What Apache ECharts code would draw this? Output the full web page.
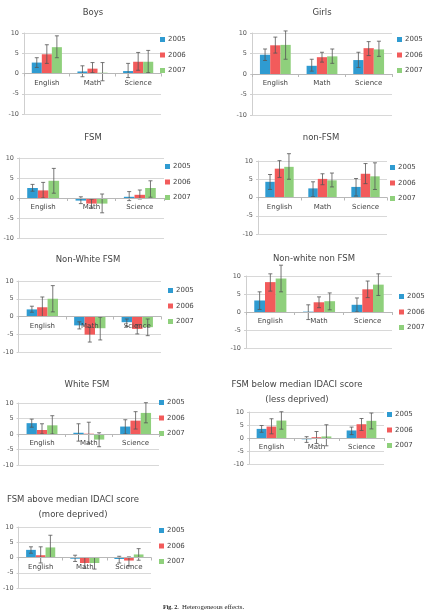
<!DOCTYPE html>
<html><head><meta charset="utf-8">
<script src="https://cdn.jsdelivr.net/npm/echarts@6/dist/echarts.min.js"></script>
<style>html,body{margin:0;padding:0;background:#fff}#c{width:428px;height:615px}</style>
</head><body><div id="c"></div>
<script>
const categories = ['English', 'Math', 'Science'];
const years = ['2005', '2006', '2007'];
const panelTitles = ['Boys', 'Girls', 'FSM', 'non-FSM', 'Non-White FSM', 'Non-white non FSM', 'White FSM',
  'FSM below median IDACI score\n(less deprived)', 'FSM above median IDACI score\n(more deprived)'];
const yTicks = [-10, -5, 0, 5, 10];

// values[panel][year][category]
const boys  = [[2.7, 0.5, 0.6], [4.75, 1.2, 2.9], [6.5, 0.2, 2.9]];
const boysLow  = [[1.5, -0.8, -1.0], [2.5, 0.2, 0.8], [3.9, -1.8, 0.2]];
const boysHigh = [[3.9, 1.9, 2.5], [7.1, 2.7, 5.2], [9.3, 2.7, 5.7]];

const girls = [[4.7, 2.0, 3.4], [7.0, 4.1, 6.3], [7.1, 4.3, 6.0]];
const girlsLow  = [[3.3, 0.7, 1.6], [5.1, 2.9, 4.5], [3.6, 2.6, 4.3]];
const girlsHigh = [[6.1, 3.6, 5.3], [9.0, 5.3, 7.9], [10.5, 6.1, 8.0]];

const fsm = [[2.5, -0.65, 0.3], [1.9, -1.4, 0.8], [4.3, -1.4, 2.5]];
const fsmLow  = [[1.7, -1.4, -0.65], [0.0, -2.5, -0.25], [1.2, -3.7, 0.2]];
const fsmHigh = [[3.4, 0.3, 1.6], [3.9, -0.3, 2.0], [7.4, 1.0, 4.3]];

const nonFsm = [[4.3, 2.5, 2.9], [7.9, 5.1, 6.5], [8.4, 4.7, 5.8]];
const nonFsmLow  = [[2.2, 0.2, 0.4], [5.5, 3.5, 3.8], [5.0, 2.9, 2.2]];
const nonFsmHigh = [[6.3, 4.3, 5.2], [10.1, 6.5, 9.3], [12.0, 6.7, 9.5]];

const nwFsm = [[2.0, -2.5, -1.6], [2.6, -5.1, -3.5], [5.0, -3.3, -3.0]];
const nwFsmLow  = [[1.2, -3.5, -2.8], [0.0, -7.2, -4.9], [1.3, -6.6, -5.4]];
const nwFsmHigh = [[2.9, -1.5, -0.7], [5.5, -3.0, -2.3], [8.7, -0.2, -0.7]];

const nwNonFsm = [[3.2, 0.1, 2.0], [8.3, 2.7, 6.3], [9.3, 3.0, 7.6]];
const nwNonFsmLow  = [[0.7, -2.1, 0.0], [5.8, 1.2, 4.0], [5.6, 0.6, 4.6]];
const nwNonFsmHigh = [[5.6, 2.0, 3.9], [10.6, 4.2, 8.6], [13.0, 5.3, 10.6]];

const wFsm = [[3.5, 0.4, 2.4], [1.3, 0.1, 4.3], [2.8, -1.8, 6.8]];
const wFsmLow  = [[2.2, -2.3, 0.0], [0.0, -3.0, 1.6], [0.0, -4.1, 3.6]];
const wFsmHigh = [[4.8, 3.3, 4.6], [3.3, 3.8, 7.2], [5.9, 0.4, 10.1]];

const below = [[3.5, -0.5, 2.9], [4.4, 0.3, 5.3], [6.7, 0.6, 6.6]];
const belowLow  = [[2.2, -1.7, 1.3], [1.6, -2.1, 2.9], [3.4, -3.0, 3.5]];
const belowHigh = [[4.8, 0.5, 4.2], [7.4, 2.5, 7.5], [10.1, 5.1, 9.6]];

const above = [[2.5, -0.4, -0.5], [0.75, -1.8, -1.0], [3.3, -1.8, 1.0]];
const aboveLow  = [[1.4, -1.3, -1.8], [-1.8, -3.5, -2.7], [0.0, -3.8, -0.9]];
const aboveHigh = [[3.5, 0.75, 0.4], [3.5, 0.0, 0.2], [7.3, 0.0, 2.9]];

const panelValues = [boys, girls, fsm, nonFsm, nwFsm, nwNonFsm, wFsm, below, above];
const panelLow = [boysLow, girlsLow, fsmLow, nonFsmLow, nwFsmLow, nwNonFsmLow, wFsmLow, belowLow, aboveLow];
const panelHigh = [boysHigh, girlsHigh, fsmHigh, nonFsmHigh, nwFsmHigh, nwNonFsmHigh, wFsmHigh, belowHigh, aboveHigh];

// layout: grid [left, top, width, height], title [centerX, top], legend [left, top]
const layout = [
  {g: [24, 33, 137, 81],  t: [93, 5],   l: [160, 36]},
  {g: [252, 33, 140, 82], t: [322, 5],  l: [397, 36]},
  {g: [19, 158, 145, 80], t: [93, 130], l: [165, 163]},
  {g: [258, 161, 129, 73], t: [321, 130], l: [390, 164]},
  {g: [17, 281, 144, 71], t: [88, 252], l: [168, 287]},
  {g: [246, 276, 146, 72], t: [314, 251], l: [399, 293]},
  {g: [11, 403, 148, 62], t: [87, 377], l: [159, 399]},
  {g: [249, 412, 135, 52], t: [297, 377], l: [387, 411]},
  {g: [14, 527, 137, 61], t: [73, 492], l: [159, 527]}
];

const colors = ['#2f9bd1', '#f25b5b', '#8fd07c'];
const FONT = 'DejaVu Sans';
const CAT_GAP = 0.34;

const option = {
  animation: false,
  textStyle: {fontFamily: FONT},
  color: colors,
  title: [], grid: [], xAxis: [], yAxis: [], legend: [], series: [],
  graphic: [
    {type: 'text', left: 163, top: 604, style: {text: 'Fig. 2.', font: 'bold 6px "Liberation Serif"', fill: '#222'}},
    {type: 'text', left: 182, top: 603.5, style: {text: 'Heterogeneous effects.', font: '6.8px "Liberation Serif"', fill: '#222'}}
  ]
};

panelValues.forEach((vals, p) => {
  const L = layout[p];
  option.title.push({
    text: panelTitles[p], left: L.t[0], top: L.t[1], textAlign: 'center', padding: 0,
    textStyle: {fontSize: 8.5, fontWeight: 'normal', color: '#444', fontFamily: FONT, lineHeight: 15}
  });
  option.grid.push({left: L.g[0], top: L.g[1], width: L.g[2], height: L.g[3], containLabel: false});
  option.xAxis.push({
    type: 'category', gridIndex: p, data: categories, position: 'bottom', z: 10,
    offset: -L.g[3] / 2,
    axisLine: {onZero: false, lineStyle: {color: '#b8b8b8', width: 1}},
    axisTick: {show: true, length: 3, lineStyle: {color: '#b8b8b8'}},
    axisLabel: {fontSize: 7, color: '#444', margin: 6, fontFamily: FONT}
  });
  option.yAxis.push({
    type: 'value', gridIndex: p, min: yTicks[0], max: yTicks[yTicks.length - 1], interval: 5,
    axisLine: {show: true, lineStyle: {color: '#cfcfcf'}},
    axisTick: {show: true, length: 2, lineStyle: {color: '#cfcfcf'}},
    axisLabel: {fontSize: 6.5, color: '#555', margin: 5, fontFamily: FONT},
    splitLine: {show: true, lineStyle: {color: '#d8d8d8', width: 1}}
  });
  option.legend.push({
    orient: 'vertical', left: L.l[0], top: L.l[1], padding: 0, itemGap: 8.5,
    itemWidth: 5, itemHeight: 5, icon: 'rect', data: years,
    textStyle: {fontSize: 7, color: '#444', fontFamily: FONT, padding: [0, 0, 0, -2]}
  });
  years.forEach((yr, k) => {
    option.series.push({
      name: yr, type: 'bar', xAxisIndex: p, yAxisIndex: p,
      data: vals[k], barGap: '0%', barCategoryGap: (CAT_GAP * 100) + '%',
      itemStyle: {color: colors[k]}, z: 2
    });
  });
  const errData = [];
  years.forEach((yr, k) => {
    categories.forEach((c, ci) => {
      errData.push([ci, panelLow[p][k][ci], panelHigh[p][k][ci], k]);
    });
  });
  option.series.push({
    type: 'custom', xAxisIndex: p, yAxisIndex: p, z: 5, silent: true,
    data: errData,
    encode: {x: 0, y: [1, 2]},
    renderItem: function (params, api) {
      const ci = api.value(0), lo = api.value(1), hi = api.value(2), k = api.value(3);
      const band = api.size([1, 0])[0];
      const barW = band * (1 - CAT_GAP) / 3;
      const pLo = api.coord([ci, lo]);
      const pHi = api.coord([ci, hi]);
      const x = pLo[0] + (k - 1) * barW;
      const cap = 2;
      const st = {stroke: '#555', lineWidth: 0.8, fill: null};
      return {type: 'group', children: [
        {type: 'line', shape: {x1: x, y1: pLo[1], x2: x, y2: pHi[1]}, style: st},
        {type: 'line', shape: {x1: x - cap, y1: pLo[1], x2: x + cap, y2: pLo[1]}, style: st},
        {type: 'line', shape: {x1: x - cap, y1: pHi[1], x2: x + cap, y2: pHi[1]}, style: st}
      ]};
    }
  });
});

const chart = echarts.init(document.getElementById('c'), null, {renderer: 'canvas'});
chart.setOption(option);
</script>
</body></html>
